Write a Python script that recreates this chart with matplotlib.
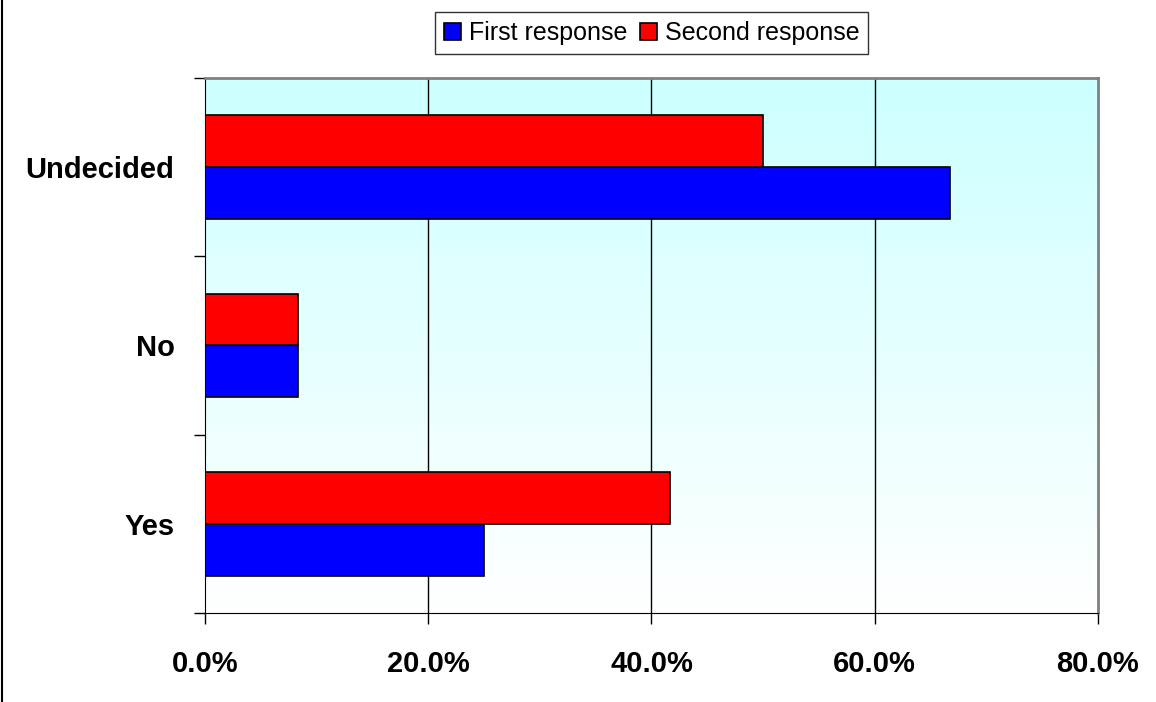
import numpy as np
import matplotlib.pyplot as plt
from matplotlib.colors import LinearSegmentedColormap

categories = ['Yes', 'No', 'Undecided']
first_response = [25.0, 8.3, 66.7]
second_response = [41.7, 8.3, 50.0]
x_ticks = [0, 20, 40, 60, 80]

plt.rcParams['font.family'] = ['Liberation Sans', 'DejaVu Sans']

fig = plt.figure(figsize=(11.56, 7.02), dpi=100)
ax = fig.add_axes([0.1773, 0.1268, 0.7725, 0.7621])

# background gradient: light cyan at top fading to white at bottom
cmap = LinearSegmentedColormap.from_list('bg', ['#ffffff', '#ccffff'])
grad = np.linspace(0, 1, 256).reshape(-1, 1)
ax.imshow(grad, cmap=cmap, aspect='auto', origin='lower',
          extent=[0, 80, -0.5, 2.5], zorder=0)

y = np.arange(len(categories))
h = 0.29
ax.barh(y - h / 2, first_response, height=h, color='#0000ff',
        edgecolor='black', linewidth=1.2, label='First response', zorder=3)
ax.barh(y + h / 2, second_response, height=h, color='#ff0000',
        edgecolor='black', linewidth=1.2, label='Second response', zorder=3)

ax.set_xlim(0, 80)
ax.set_ylim(-0.5, 2.5)
ax.set_xticks(x_ticks)
ax.set_xticklabels(['%.1f%%' % v for v in x_ticks], fontsize=21, fontweight='bold')
ax.set_yticks(y)
ax.set_yticklabels(categories, fontsize=21, fontweight='bold')
ax.tick_params(axis='y', length=0, pad=22)
ax.set_yticks([-0.5, 0.5, 1.5, 2.5], minor=True)
ax.tick_params(axis='y', which='minor', length=8, direction='out', width=1)
ax.tick_params(axis='x', length=8, direction='out', width=1, pad=19)

for v in x_ticks[1:-1]:
    ax.axvline(v, color='black', linewidth=1, zorder=1)

ax.spines['top'].set_color('#808080')
ax.spines['right'].set_color('#808080')
ax.spines['top'].set_linewidth(2)
ax.spines['right'].set_linewidth(2)
ax.spines['left'].set_color('black')
ax.spines['bottom'].set_color('black')

leg = ax.legend(loc='lower center', bbox_to_anchor=(0.5, 1.045), ncol=2,
                fontsize=18, frameon=True, fancybox=False, handlelength=0.7,
                handleheight=0.7, handletextpad=0.3, columnspacing=0.5,
                borderpad=0.35, borderaxespad=0)
leg.get_frame().set_edgecolor('black')
leg.get_frame().set_linewidth(1)

# chart area border on the left edge
fig.add_artist(plt.Line2D([0.0015, 0.0015], [0, 1], color='black', linewidth=1.5))

plt.savefig('out.png', dpi=100)
